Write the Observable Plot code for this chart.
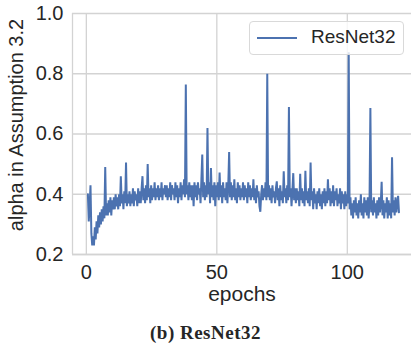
<!DOCTYPE html>
<html>
<head>
<meta charset="utf-8">
<script src="https://cdn.jsdelivr.net/npm/d3@7"></script>
<script src="https://cdn.jsdelivr.net/npm/@observablehq/plot@0.6"></script>
<style>
  html, body { margin: 0; padding: 0; background: #fff; }
  #wrap { position: relative; width: 411px; height: 346px; overflow: hidden; font-family: "Liberation Sans", Arial, sans-serif; }
  #legend { position: absolute; left: 249px; top: 21px; width: 153px; height: 32px; border: 1px solid #d9d9d9; border-radius: 4px; background: rgba(255,255,255,0.8); }
  #legend .swatch { position: absolute; left: 7px; top: 15px; width: 40px; height: 0; border-top: 2px solid #4c72b0; }
  #legend .lab { position: absolute; left: 61px; top: 4px; font-size: 19px; line-height: 22px; color: #262626; }
  #caption { position: absolute; left: 0; width: 411px; top: 322px; text-align: center; font-family: "Liberation Serif", "Times New Roman", serif; font-weight: bold; font-size: 19px; letter-spacing: 0.5px; color: #262626; }
</style>
</head>
<body>
<div id="wrap">
  <div id="chart"></div>
  <div id="legend"><div class="swatch"></div><div class="lab">ResNet32</div></div>
  <div id="caption">(b) ResNet32</div>
</div>
<script>
// Series name and axis labels
const seriesName = "ResNet32";
const xLabel = "epochs";
const yLabel = "alpha in Assumption 3.2";
const xTicks = [0, 50, 100];
const yTicks = [0.2, 0.4, 0.6, 0.8, 1.0];
const firstEpoch = 0.6;
const lastEpoch = 119.8;

const alpha = [
  0.40, 0.31, 0.36, 0.43, 0.27, 0.23, 0.26, 0.23, 0.29, 0.25, 0.31, 0.27, 0.33, 0.29, 0.34, 0.30, 0.35, 0.31, 0.36, 0.32, 0.49, 0.33, 0.37, 0.33, 0.38, 0.34, 0.39, 0.33, 0.38, 0.35,
  0.39, 0.35, 0.40, 0.36, 0.39, 0.35, 0.40, 0.36, 0.46, 0.37, 0.40, 0.35, 0.41, 0.37, 0.505, 0.36, 0.40, 0.37, 0.41, 0.36, 0.40, 0.37, 0.42, 0.36, 0.41, 0.38, 0.40, 0.36, 0.42, 0.37,
  0.41, 0.37, 0.42, 0.46, 0.38, 0.42, 0.37, 0.43, 0.38, 0.50, 0.39, 0.42, 0.37, 0.43, 0.38, 0.42, 0.39, 0.44, 0.38, 0.42, 0.39, 0.43, 0.38, 0.42, 0.39, 0.44, 0.38, 0.42, 0.40, 0.43,
  0.39, 0.43, 0.38, 0.42, 0.39, 0.44, 0.38, 0.43, 0.40, 0.42, 0.38, 0.44, 0.39, 0.43, 0.37, 0.42, 0.39, 0.44, 0.38, 0.43, 0.40, 0.45, 0.39, 0.764, 0.40, 0.43, 0.38, 0.44, 0.39, 0.43,
  0.38, 0.43, 0.36, 0.44, 0.39, 0.43, 0.38, 0.44, 0.40, 0.42, 0.37, 0.45, 0.532, 0.39, 0.44, 0.38, 0.43, 0.39, 0.62, 0.40, 0.44, 0.37, 0.487, 0.39, 0.43, 0.38, 0.44, 0.36, 0.43, 0.39,
  0.44, 0.38, 0.472, 0.39, 0.43, 0.37, 0.44, 0.39, 0.42, 0.38, 0.44, 0.37, 0.43, 0.54, 0.39, 0.44, 0.38, 0.43, 0.39, 0.45, 0.38, 0.42, 0.37, 0.44, 0.39, 0.43, 0.38, 0.42, 0.39, 0.44,
  0.38, 0.43, 0.39, 0.42, 0.37, 0.44, 0.39, 0.43, 0.38, 0.42, 0.39, 0.45, 0.38, 0.42, 0.37, 0.43, 0.39, 0.41, 0.36, 0.342, 0.40, 0.43, 0.38, 0.42, 0.39, 0.44, 0.38, 0.80, 0.39, 0.43,
  0.38, 0.42, 0.37, 0.43, 0.39, 0.41, 0.37, 0.42, 0.443, 0.38, 0.42, 0.36, 0.43, 0.38, 0.41, 0.37, 0.476, 0.39, 0.42, 0.37, 0.43, 0.38, 0.69, 0.39, 0.42, 0.36, 0.41, 0.47, 0.38, 0.42,
  0.37, 0.42, 0.38, 0.41, 0.36, 0.468, 0.38, 0.42, 0.37, 0.41, 0.36, 0.478, 0.38, 0.41, 0.37, 0.42, 0.36, 0.505, 0.38, 0.41, 0.35, 0.42, 0.37, 0.40, 0.35, 0.41, 0.37, 0.42, 0.36, 0.40,
  0.35, 0.41, 0.37, 0.42, 0.36, 0.41, 0.37, 0.45, 0.38, 0.42, 0.36, 0.41, 0.37, 0.43, 0.36, 0.41, 0.38, 0.42, 0.36, 0.40, 0.37, 0.42, 0.35, 0.41, 0.37, 0.40, 0.35, 0.41, 0.36, 0.40,
  0.37, 0.871, 0.35, 0.39, 0.33, 0.37, 0.32, 0.38, 0.34, 0.39, 0.33, 0.37, 0.32, 0.38, 0.34, 0.40, 0.33, 0.37, 0.32, 0.39, 0.34, 0.38, 0.33, 0.39, 0.32, 0.37, 0.686, 0.34, 0.38, 0.33,
  0.39, 0.34, 0.37, 0.32, 0.38, 0.33, 0.39, 0.34, 0.37, 0.441, 0.33, 0.38, 0.32, 0.37, 0.34, 0.39, 0.32, 0.38, 0.33, 0.37, 0.32, 0.523, 0.34, 0.38, 0.33, 0.39, 0.34, 0.37, 0.395, 0.34
];

const step = (lastEpoch - firstEpoch) / (alpha.length - 1);
const data = alpha.map((v, i) => ({epoch: firstEpoch + i * step, alpha: v, series: seriesName}));

const xDomain = [-5.3, 124.6];
const yDomain = [0.2, 1.0];
const grid = "#d3d3d3";
const ink = "#262626";

const chart = Plot.plot({
  width: 411,
  height: 312,
  marginLeft: 72,
  marginRight: 0,
  marginTop: 13,
  marginBottom: 58,
  style: {fontFamily: "'Liberation Sans', Arial, sans-serif", fontSize: "20px", color: ink, background: "#fff"},
  x: {domain: xDomain},
  y: {domain: yDomain},
  marks: [
    Plot.gridX(xTicks, {stroke: grid, strokeOpacity: 1, strokeWidth: 1.3}),
    Plot.gridY(yTicks, {stroke: grid, strokeOpacity: 1, strokeWidth: 1.3}),
    Plot.ruleX([xDomain[0]], {stroke: grid, strokeWidth: 1.3}),
    Plot.ruleY([yDomain[0]], {stroke: grid, strokeWidth: 1.3}),
    Plot.axisX(xTicks, {tickSize: 0, tickPadding: 10, fontSize: 20, fill: ink, label: null}),
    Plot.axisY(yTicks, {tickSize: 0, tickPadding: 9, fontSize: 20, fill: ink, label: null, tickFormat: d3.format(".1f")}),
    Plot.line(data, {x: "epoch", y: "alpha", stroke: "#4c72b0", strokeWidth: 2, strokeLinejoin: "miter"}),
    Plot.text([xLabel], {frameAnchor: "bottom", dy: 46, fontSize: 21, fill: ink, text: d => d}),
    Plot.text([yLabel], {frameAnchor: "left", textAnchor: "middle", dx: -56, dy: -9, rotate: -90, fontSize: 20, fill: ink, text: d => d})
  ]
});
document.getElementById("chart").appendChild(chart);
</script>
</body>
</html>
